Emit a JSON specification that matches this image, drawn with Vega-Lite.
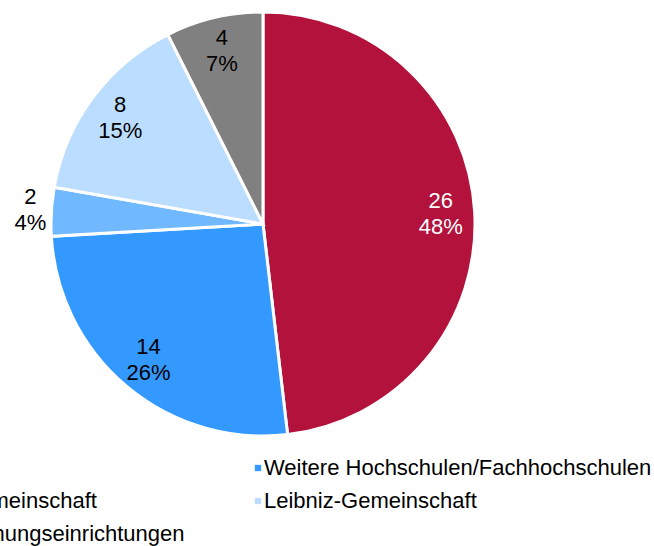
{
  "$schema": "https://vega.github.io/schema/vega-lite/v6.json",
  "width": 424,
  "height": 424,
  "autosize": {"type": "none"},
  "padding": {"left": 51, "top": 12, "right": 179, "bottom": 110},
  "background": "white",
  "config": {"view": {"stroke": null}, "font": "Liberation Sans"},
  "data": {
    "values": [
      {"kategorie": "Universitäten", "anzahl": 26, "anteil": 0.48, "reihenfolge": 1},
      {"kategorie": "Weitere Hochschulen/Fachhochschulen", "anzahl": 14, "anteil": 0.26, "reihenfolge": 2},
      {"kategorie": "Helmholtz-Gemeinschaft", "anzahl": 2, "anteil": 0.04, "reihenfolge": 3},
      {"kategorie": "Leibniz-Gemeinschaft", "anzahl": 8, "anteil": 0.15, "reihenfolge": 4},
      {"kategorie": "Weitere Forschungseinrichtungen", "anzahl": 4, "anteil": 0.07, "reihenfolge": 5}
    ]
  },
  "encoding": {
    "theta": {"field": "anzahl", "type": "quantitative", "stack": true},
    "order": {"field": "reihenfolge", "type": "quantitative"}
  },
  "layer": [
    {
      "mark": {"type": "arc", "outerRadius": 212, "stroke": "white", "strokeWidth": 3},
      "encoding": {
        "color": {
          "field": "kategorie",
          "type": "nominal",
          "scale": {
            "domain": ["Universitäten", "Weitere Hochschulen/Fachhochschulen", "Helmholtz-Gemeinschaft", "Leibniz-Gemeinschaft", "Weitere Forschungseinrichtungen"],
            "range": ["#B3123C", "#3399FF", "#70B8FF", "#BBDDFF", "#808080"]
          },
          "legend": {
            "orient": "none",
            "direction": "horizontal",
            "legendX": -212,
            "legendY": 445,
            "columns": 2,
            "title": null,
            "padding": 0,
            "symbolType": "square",
            "symbolSize": 40,
            "symbolStrokeWidth": 0,
            "labelFontSize": 22,
            "labelFont": "Liberation Sans",
            "labelColor": "black",
            "labelLimit": 600,
            "labelOffset": -5,
            "rowPadding": 11,
            "columnPadding": 62
          }
        }
      }
    },
    {
      "mark": {"type": "text", "fontSize": 22, "font": "Liberation Sans", "dy": -13, "baseline": "middle"},
      "encoding": {
        "radius": {"field": "anzahl", "type": "quantitative", "scale": {"type": "linear", "domain": [2, 4], "range": [233, 178], "clamp": true, "zero": false}},
        "text": {"field": "anzahl", "type": "quantitative"},
        "color": {"condition": {"test": "datum.kategorie === 'Universitäten'", "value": "white"}, "value": "black"}
      }
    },
    {
      "mark": {"type": "text", "fontSize": 22, "font": "Liberation Sans", "dy": 13, "baseline": "middle"},
      "encoding": {
        "radius": {"field": "anzahl", "type": "quantitative", "scale": {"type": "linear", "domain": [2, 4], "range": [233, 178], "clamp": true, "zero": false}},
        "text": {"field": "anteil", "type": "quantitative", "format": ".0%"},
        "color": {"condition": {"test": "datum.kategorie === 'Universitäten'", "value": "white"}, "value": "black"}
      }
    }
  ]
}
